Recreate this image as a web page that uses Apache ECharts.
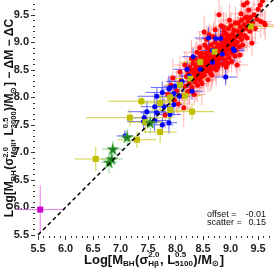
<!DOCTYPE html>
<html><head><meta charset="utf-8">
<script src="https://cdn.jsdelivr.net/npm/echarts@6/dist/echarts.min.js"></script>
<style>html,body{margin:0;padding:0;background:#fff}#c{width:274px;height:268px}</style>
</head><body><div id="c"></div>
<script>
// ---- tick labels ----
const majorTicks = [5.5, 6.0, 6.5, 7.0, 7.5, 8.0, 8.5, 9.0, 9.5];
const minorTicks = [5.5,5.6,5.7,5.8,5.9,6.0,6.1,6.2,6.3,6.4,6.5,6.6,6.7,6.8,6.9,7.0,7.1,7.2,7.3,7.4,7.5,7.6,7.7,7.8,7.9,8.0,8.1,8.2,8.3,8.4,8.5,8.6,8.7,8.8,8.9,9.0,9.1,9.2,9.3,9.4,9.5,9.6,9.7];

// ---- data: [x, y, xErr, yErr] ----
const redPoints = [
[7.81,7.68,0.12,0.25],[7.86,8.05,0.2,0.3],[7.92,8.22,0.15,0.2],[7.95,8.35,0.1,0.35],[7.98,7.95,0.25,0.15],[8.02,8.12,0.12,0.4],[8.05,7.88,0.18,0.22],[8.08,8.46,0.1,0.3],[8.10,8.30,0.22,0.18],[8.12,8.02,0.08,0.28],[8.15,7.81,0.15,0.35],[8.17,8.59,0.2,0.25],[8.18,8.20,0.1,0.2],[8.20,8.38,0.3,0.15],[8.22,8.10,0.12,0.32],
[8.23,8.42,0.15,0.25],[8.25,8.25,0.1,0.4],[8.26,8.55,0.2,0.2],[8.28,8.33,0.08,0.3],[8.30,8.18,0.18,0.22],[8.30,8.48,0.12,0.45],[8.32,8.62,0.25,0.18],[8.33,8.40,0.1,0.28],[8.35,8.28,0.15,0.35],[8.35,8.52,0.2,0.15],[8.36,8.70,0.12,0.3],[8.38,8.45,0.3,0.22],[8.38,8.35,0.1,0.4],[8.40,8.58,0.15,0.2],[8.40,8.22,0.2,0.3],[8.41,8.50,0.08,0.25],[8.42,8.40,0.18,0.35],[8.43,8.66,0.12,0.18],[8.44,8.31,0.25,0.28],[8.45,8.55,0.1,0.42],[8.45,8.75,0.15,0.2],[8.46,8.45,0.2,0.3],[8.47,8.60,0.1,0.25],[8.48,8.38,0.22,0.15],[8.49,8.52,0.12,0.35],[8.50,8.68,0.18,0.22],[8.50,8.44,0.1,0.3],[8.26,8.12,0.15,0.25],[8.34,8.05,0.2,0.2],[8.29,8.70,0.1,0.35],[8.44,8.90,0.15,0.3],[8.39,8.82,0.25,0.2],[8.48,8.25,0.12,0.4],[8.31,8.38,0.18,0.18],[8.37,8.58,0.1,0.28],[8.42,8.62,0.2,0.22],[8.21,8.50,0.15,0.3],[8.47,8.80,0.1,0.25],
[8.51,8.58,0.12,0.3],[8.52,8.72,0.2,0.2],[8.52,8.40,0.1,0.35],[8.53,8.65,0.15,0.25],[8.54,8.52,0.25,0.18],[8.55,8.80,0.1,0.4],[8.55,8.62,0.18,0.22],[8.56,8.48,0.12,0.3],[8.57,8.70,0.2,0.25],[8.58,8.58,0.08,0.2],[8.58,8.90,0.15,0.35],[8.59,8.66,0.22,0.18],[8.60,8.50,0.1,0.28],[8.60,8.75,0.15,0.3],[8.61,8.62,0.2,0.22],[8.62,8.85,0.12,0.4],[8.62,8.55,0.18,0.2],[8.63,8.70,0.1,0.3],[8.64,8.78,0.25,0.25],[8.65,8.60,0.12,0.18],[8.65,8.95,0.15,0.35],[8.66,8.68,0.2,0.22],[8.67,8.52,0.1,0.3],[8.67,8.82,0.18,0.2],[8.68,8.72,0.12,0.45],[8.69,8.62,0.3,0.2],[8.70,8.88,0.1,0.28],[8.70,8.76,0.15,0.22],[8.71,8.66,0.2,0.35],[8.72,9.00,0.12,0.25],[8.72,8.80,0.18,0.18],[8.73,8.58,0.1,0.3],[8.74,8.72,0.22,0.22],[8.75,8.90,0.12,0.4],[8.75,8.84,0.15,0.2],[8.76,8.68,0.2,0.28],[8.77,8.78,0.1,0.25],[8.78,8.95,0.18,0.3],[8.78,8.62,0.12,0.22],[8.79,8.86,0.25,0.18],[8.80,8.74,0.1,0.35],[8.53,8.95,0.15,0.3],[8.57,9.05,0.2,0.25],[8.52,9.19,0.12,0.3],[8.61,9.14,0.18,0.2],[8.72,9.23,0.1,0.35],[8.79,9.50,0.08,0.45],[8.66,8.40,0.2,0.25],[8.74,8.50,0.15,0.3],[8.59,8.32,0.1,0.22],[8.69,9.10,0.22,0.28],[8.63,8.45,0.12,0.35],[8.77,8.55,0.18,0.2],
[8.81,8.90,0.12,0.3],[8.81,8.70,0.2,0.22],[8.82,9.05,0.1,0.35],[8.83,8.82,0.15,0.25],[8.84,8.96,0.25,0.2],[8.85,8.75,0.12,0.4],[8.85,9.12,0.18,0.22],[8.86,8.88,0.1,0.3],[8.87,9.00,0.2,0.25],[8.88,8.80,0.12,0.18],[8.88,9.20,0.15,0.35],[8.89,8.92,0.22,0.22],[8.90,8.68,0.1,0.3],[8.90,9.05,0.18,0.28],[8.91,8.85,0.12,0.2],[8.92,9.15,0.2,0.4],[8.93,8.98,0.1,0.25],[8.94,8.78,0.15,0.3],[8.94,9.08,0.25,0.22],[8.95,8.90,0.12,0.35],[8.96,9.25,0.18,0.2],[8.97,9.02,0.1,0.3],[8.97,8.72,0.2,0.25],[8.98,8.95,0.12,0.18],[8.99,9.12,0.15,0.4],[9.00,8.85,0.22,0.22],[9.00,9.05,0.1,0.3],[9.01,9.30,0.18,0.25],[9.02,8.98,0.12,0.35],[9.03,8.80,0.2,0.2],[9.04,9.15,0.1,0.28],[9.05,9.00,0.15,0.22],[9.05,8.90,0.25,0.3],[9.06,9.22,0.12,0.18],[9.07,9.08,0.18,0.35],[9.08,8.95,0.1,0.25],[9.09,9.35,0.2,0.3],[9.10,9.10,0.12,0.22],[9.10,8.85,0.15,0.4],[8.86,8.60,0.2,0.25],[8.92,8.55,0.1,0.3],[9.02,8.65,0.18,0.2],[8.83,9.30,0.12,0.35],[8.98,9.40,0.15,0.3],[9.12,8.59,0.2,0.25],[9.08,8.75,0.1,0.22],[8.87,9.28,0.25,0.28],[8.95,8.62,0.12,0.3],
[9.12,9.00,0.15,0.3],[9.13,9.20,0.1,0.25],[9.14,9.35,0.2,0.2],[9.15,9.10,0.12,0.35],[9.16,8.92,0.18,0.22],[9.17,8.77,0.1,0.3],[9.18,9.28,0.25,0.25],[9.19,9.15,0.12,0.18],[9.20,9.40,0.15,0.4],[9.20,9.05,0.2,0.22],[9.22,9.22,0.1,0.3],[9.24,9.68,0.08,0.45],[9.25,9.32,0.18,0.25],[9.26,9.12,0.12,0.3],[9.27,9.45,0.2,0.2],[9.28,9.25,0.1,0.35],[9.30,9.08,0.15,0.25],[9.30,9.72,0.12,0.3],[9.32,9.38,0.22,0.22],[9.33,9.59,0.1,0.28],[9.35,9.20,0.18,0.3],[9.36,9.45,0.12,0.2],[9.38,9.30,0.2,0.35],[9.39,8.99,0.1,0.25],[9.40,9.35,0.15,0.3],[9.22,8.95,0.12,0.22],[9.19,9.52,0.18,0.35],[9.30,9.45,0.1,0.25],
[9.43,9.50,0.15,0.3],[9.45,9.25,0.2,0.25],[9.48,9.42,0.12,0.2],[9.50,9.60,0.1,0.35],[9.54,9.68,0.15,0.25],[9.55,9.38,0.2,0.3],[9.61,9.35,0.12,0.22],[9.63,9.32,0.18,0.28],[9.58,9.75,0.1,0.3]
];
const bluePoints = [
[8.73,9.07,0.25,0.15],[8.82,9.07,0.15,0.2],[8.67,8.85,0.2,0.15],[9.07,8.85,0.18,0.2],[8.67,8.64,0.3,0.15],[8.85,8.79,0.12,0.25],[8.21,8.51,0.25,0.15],[8.25,8.39,0.2,0.2],[8.91,8.37,0.2,0.15],[8.12,8.29,0.3,0.15],[7.99,8.20,0.2,0.2],[7.90,8.18,0.35,0.15],[7.88,8.15,0.15,0.25],[7.76,8.09,0.3,0.2],[7.97,8.07,0.25,0.15],[8.07,8.02,0.2,0.2],[7.66,8.02,0.35,0.15],[7.62,7.83,0.25,0.25],[7.79,7.83,0.2,0.15],[7.97,7.87,0.15,0.2],[7.66,7.72,0.3,0.2],[7.90,7.69,0.2,0.15],[7.62,7.58,0.25,0.2],[7.76,7.50,0.2,0.15],[7.88,7.54,0.15,0.2],[7.48,7.74,0.35,0.2],[7.42,7.56,0.3,0.15],[8.32,8.74,0.2,0.15],[8.45,8.51,0.15,0.2],[9.05,8.88,0.2,0.15],[8.60,9.08,0.25,0.2],[8.30,8.11,0.2,0.15],[7.08,7.30,0.15,0.1],[7.43,7.63,0.2,0.15]
];
const olivePoints = [
[9.37,9.29,0.6,0.1],[8.71,8.83,0.3,0.15],[8.45,8.64,0.35,0.2],[8.27,8.34,0.3,0.15],[8.08,8.23,0.25,0.2],[7.90,8.00,0.3,0.15],[8.17,8.03,0.3,0.2],[7.72,7.90,0.4,0.15],[7.90,7.77,0.35,0.2],[8.30,7.74,0.4,0.15],[7.72,7.37,0.3,0.2],[7.38,7.93,0.6,0.1],[7.17,7.63,0.8,0.15],[7.30,7.23,0.35,0.15],[7.45,7.55,0.3,0.2],[6.55,6.88,0.38,0.22]
];
const greenPoints = [
[6.86,7.06,0.2,0.15],[6.79,6.82,0.15,0.2],[6.84,6.88,0.2,0.15],[7.12,7.28,0.15,0.15],[7.54,7.54,0.15,0.2]
];
const magentaPoints = [[5.54,5.96,0.45,0.44]];
const diagonal = [[5.5,5.5],[9.8,9.8]];
const offsetText = [['offset =', '-0.01'], ['scatter =', '0.15']];
const xTitle = [['m','Log[M'],['s','BH'],['m','(σ'],['ss','2.0','Hβ'],['m',', L'],['ss','0.5','5100'],['m',')/M'],['s','⊙'],['m',']']];
const yTitle = [['m','Log[M'],['s','BH'],['m','(σ'],['ss','2.0','MgII'],['m',', L'],['ss','0.5','3000'],['m',')/M'],['s','⊙'],['m','] \u2212 ΔM \u2212 ΔC']];

// ---- helpers ----
function errSeries(pts, color, width) {
  return {
    type: 'custom', silent: true, data: pts, encode: { x: 0, y: 1 },
    renderItem: function (params, api) {
      const x = api.value(0), y = api.value(1), ex = api.value(2), ey = api.value(3);
      const l = api.coord([x - ex, y]), r = api.coord([x + ex, y]);
      const t = api.coord([x, y + ey]), b = api.coord([x, y - ey]);
      return { type: 'group', children: [
        { type: 'line', shape: { x1: l[0], y1: l[1], x2: r[0], y2: r[1] }, style: { stroke: color, lineWidth: width } },
        { type: 'line', shape: { x1: t[0], y1: t[1], x2: b[0], y2: b[1] }, style: { stroke: color, lineWidth: width } }
      ]};
    }
  };
}
function ptSeries(pts, symbol, size, color, border) {
  return { type: 'scatter', data: pts.map(p => [p[0], p[1]]), symbol: symbol, symbolSize: size,
    itemStyle: { color: color, borderColor: border || color, borderWidth: border ? 0.8 : 0, opacity: 1 }, silent: true };
}
const measureCtx = document.createElement('canvas').getContext('2d');
function tw(t, font) { measureCtx.font = font; return measureCtx.measureText(t).width; }
const FAM = '"Liberation Sans", Arial, sans-serif';
function buildTitle(spec, mainSize, scriptSize) {
  const mf = 'bold ' + mainSize + 'px ' + FAM, sf = 'bold ' + scriptSize + 'px ' + FAM;
  const items = []; let x = 0;
  const supDy = -mainSize * 0.38, subDy = mainSize * 0.3;
  spec.forEach(p => {
    if (p[0] === 'm') {
      items.push({ t: p[1], f: mf, x: x, dy: 0 }); x += tw(p[1], mf);
    } else if (p[0] === 's') {
      items.push({ t: p[1], f: sf, x: x, dy: subDy }); x += tw(p[1], sf) + 0.5;
    } else {
      items.push({ t: p[1], f: sf, x: x, dy: supDy });
      items.push({ t: p[2], f: sf, x: x, dy: subDy });
      x += Math.max(tw(p[1], sf), tw(p[2], sf)) + 0.5;
    }
  });
  return items.map(it => ({ type: 'text', x: it.x - x / 2, y: it.dy,
    style: { text: it.t, font: it.f, fill: '#111', textAlign: 'left', textVerticalAlign: 'middle', align: 'left', verticalAlign: 'middle' } }));
}

const tickFont = { fontFamily: FAM, fontWeight: 'bold', fontSize: 11, color: '#222' };
const chart = echarts.init(document.getElementById('c'), null, { renderer: 'canvas' });
chart.setOption({
  animation: false,
  backgroundColor: '#fff',
  grid: { left: 35, right: 0, top: 0, bottom: 32, containLabel: false, outerBoundsMode: 'none' },
  xAxis: [
    { type: 'value', min: 5.445, max: 9.79, position: 'bottom', axisLine: { show: false }, splitLine: { show: false },
      axisTick: { show: true, customValues: majorTicks, length: 4, lineStyle: { color: '#333', width: 1 } },
      axisLabel: Object.assign({ customValues: majorTicks, margin: 7, formatter: v => Number(v).toFixed(1) }, tickFont) },
    { type: 'value', min: 5.445, max: 9.79, position: 'bottom', axisLine: { show: false }, splitLine: { show: false },
      axisTick: { show: true, customValues: minorTicks, length: 2, lineStyle: { color: '#333', width: 1 } },
      axisLabel: { show: false } }
  ],
  yAxis: [
    { type: 'value', min: 5.48, max: 9.77, position: 'left', axisLine: { show: false }, splitLine: { show: false },
      axisTick: { show: true, customValues: majorTicks, length: 4, lineStyle: { color: '#333', width: 1 } },
      axisLabel: Object.assign({ customValues: majorTicks, margin: 6, formatter: v => Number(v).toFixed(1) }, tickFont) },
    { type: 'value', min: 5.48, max: 9.77, position: 'left', axisLine: { show: false }, splitLine: { show: false },
      axisTick: { show: true, customValues: minorTicks, length: 2, lineStyle: { color: '#333', width: 1 } },
      axisLabel: { show: false } }
  ],
  series: [
    errSeries(redPoints, 'rgba(255,90,90,0.45)', 1),
    ptSeries(redPoints, 'circle', 5, '#ff0000'),
    errSeries(bluePoints, 'rgba(40,40,255,0.7)', 1),
    ptSeries(bluePoints, 'circle', 5, '#0000ff'),
    errSeries(olivePoints, 'rgba(200,200,30,0.85)', 1),
    ptSeries(olivePoints, 'rect', 6, '#bfbf00'),
    errSeries(greenPoints, 'rgba(120,200,120,0.8)', 1),
    ptSeries(greenPoints, 'path://M50,0 L61,35 L98,35 L68,57 L79,91 L50,70 L21,91 L32,57 L2,35 L39,35 Z', 11, '#1e7d1e', '#4caf4c'),
    errSeries(magentaPoints, 'rgba(230,90,230,0.8)', 1),
    ptSeries(magentaPoints, 'rect', 6, '#cc00cc'),
    { type: 'line', data: diagonal, symbol: 'none', silent: true, z: 5,
      lineStyle: { color: '#000', width: 1.5, type: [4, 3] } }
  ],
  graphic: [
    { type: 'group', x: 154, y: 260, children: buildTitle(xTitle, 13, 8) },
    { type: 'group', x: 10, y: 118, rotation: Math.PI / 2, children: buildTitle(yTitle, 12, 7.5) },
    { type: 'text', x: 207, y: 215, style: { text: offsetText[0][0], font: '9px ' + FAM, fill: '#111', textVerticalAlign: 'middle', verticalAlign: 'middle' } },
    { type: 'text', x: 266, y: 215, style: { text: offsetText[0][1], font: '9px ' + FAM, fill: '#111', textAlign: 'right', align: 'right', textVerticalAlign: 'middle', verticalAlign: 'middle' } },
    { type: 'text', x: 207, y: 223, style: { text: offsetText[1][0], font: '9px ' + FAM, fill: '#111', textVerticalAlign: 'middle', verticalAlign: 'middle' } },
    { type: 'text', x: 266, y: 223, style: { text: offsetText[1][1], font: '9px ' + FAM, fill: '#111', textAlign: 'right', align: 'right', textVerticalAlign: 'middle', verticalAlign: 'middle' } }
  ]
});
</script>
</body></html>
